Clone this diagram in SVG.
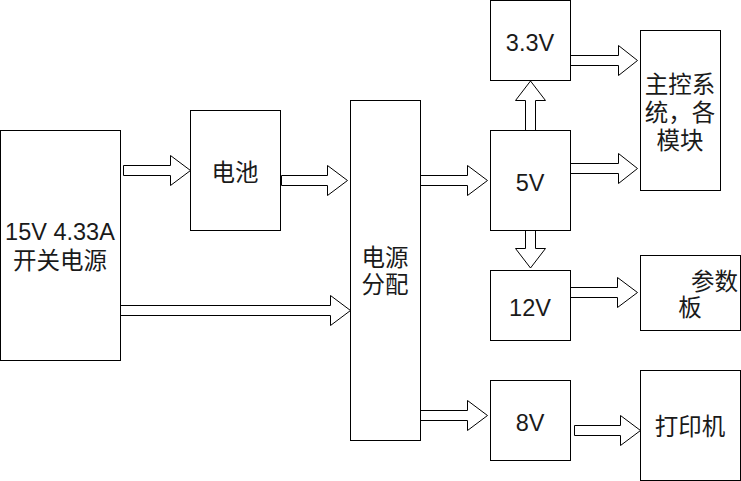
<svg xmlns="http://www.w3.org/2000/svg" width="741" height="481" viewBox="0 0 741 481">
<style>
.box{fill:#ffffff;stroke:#000000;stroke-width:1}
.arr{fill:#ffffff;stroke:#000000;stroke-width:1;stroke-linejoin:miter}
text{font-family:"Liberation Sans","Noto Sans CJK SC",sans-serif;font-size:23.5px;fill:#1a1a1a;text-anchor:middle}
</style>
<rect width="741" height="481" fill="#ffffff"/>
<g id="connectors">
<polygon class="arr" points="123.5,165.5 170.5,165.5 170.5,155.5 190.5,170.5 170.5,185.5 170.5,175.5 123.5,175.5"/>
<polygon class="arr" points="281.5,175.5 327.5,175.5 327.5,165.5 347.5,180.5 327.5,195.5 327.5,185.5 281.5,185.5"/>
<polygon class="arr" points="120.5,305.5 330.5,305.5 330.5,295.5 350.5,310.5 330.5,325.5 330.5,315.5 120.5,315.5"/>
<polygon class="arr" points="420.5,175.5 467.5,175.5 467.5,165.5 487.5,180.5 467.5,195.5 467.5,185.5 420.5,185.5"/>
<polygon class="arr" points="420.5,410.5 467.5,410.5 467.5,400.5 487.5,415.5 467.5,430.5 467.5,420.5 420.5,420.5"/>
<polygon class="arr" points="525.5,130.5 525.5,100.5 515.5,100.5 530.5,81 545.5,100.5 535.5,100.5 535.5,130.5"/>
<polygon class="arr" points="525.5,230.5 525.5,248.5 515.5,248.5 530.5,268 545.5,248.5 535.5,248.5 535.5,230.5"/>
<polygon class="arr" points="570.5,55.5 618.5,55.5 618.5,45.5 637.5,60.5 618.5,75.5 618.5,65.5 570.5,65.5"/>
<polygon class="arr" points="570.5,163.5 618.5,163.5 618.5,153.5 637.5,168.5 618.5,183.5 618.5,173.5 570.5,173.5"/>
<polygon class="arr" points="570.5,287.5 617.5,287.5 617.5,277.5 637.5,292.5 617.5,307.5 617.5,297.5 570.5,297.5"/>
<polygon class="arr" points="574.5,425.5 620.5,425.5 620.5,415.5 640.5,430.5 620.5,445.5 620.5,435.5 574.5,435.5"/>
</g>
<g id="psu">
<rect class="box" x="0.5" y="130.5" width="120" height="230"/>
<text x="60" y="240">15V 4.33A</text>
<text x="60" y="269">开关电源</text>
</g>
<g id="battery">
<rect class="box" x="190.5" y="110.5" width="90" height="120"/>
<text x="235" y="181">电池</text>
</g>
<g id="distribution">
<rect class="box" x="350.5" y="100.5" width="70" height="340"/>
<text x="385" y="266">电源</text>
<text x="385" y="293">分配</text>
</g>
<g id="v33">
<rect class="box" x="490.5" y="0.5" width="80" height="80"/>
<text x="530" y="50.5">3.3V</text>
</g>
<g id="v5">
<rect class="box" x="490.5" y="130.5" width="80" height="100"/>
<text x="530" y="190.5">5V</text>
</g>
<g id="v12">
<rect class="box" x="490.5" y="270.5" width="80" height="70"/>
<text x="530" y="315.5">12V</text>
</g>
<g id="v8">
<rect class="box" x="490.5" y="380.5" width="80" height="80"/>
<text x="530" y="430.5">8V</text>
</g>
<g id="mainctrl">
<rect class="box" x="640.5" y="30.5" width="80" height="160"/>
<text x="680" y="93">主控系</text>
<text x="680" y="121">统，各</text>
<text x="680" y="149">模块</text>
</g>
<g id="paramboard">
<rect class="box" x="640.5" y="255.5" width="100" height="75"/>
<text x="691" y="290" style="text-anchor:start">参数</text>
<text x="690" y="316">板</text>
</g>
<g id="printer">
<rect class="box" x="640.5" y="370.5" width="100" height="110"/>
<text x="690" y="435">打印机</text>
</g>
</svg>
